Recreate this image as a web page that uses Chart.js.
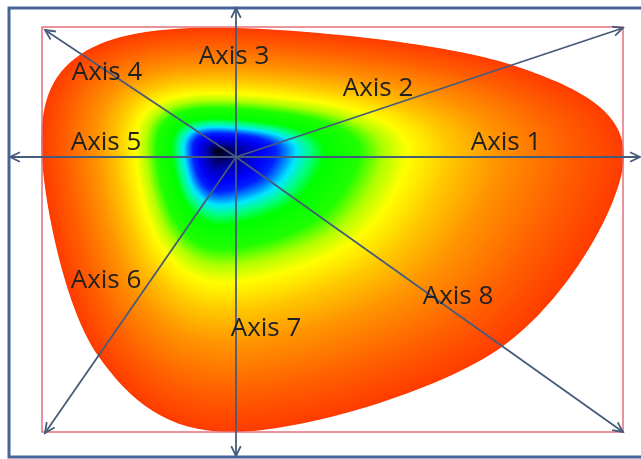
<!DOCTYPE html>
<html>
<head>
<meta charset="utf-8">
<script src="https://cdn.jsdelivr.net/npm/chart.js@4/dist/chart.umd.min.js"></script>
<style>
  html, body { margin: 0; padding: 0; background: #fff; }
  #wrap { width: 641px; height: 459px; }
</style>
</head>
<body>
<div id="wrap"><canvas id="chart" width="641" height="459"></canvas></div>
<script>
// data (units = px, origin where the axes cross, y up)
const axisNames = ['Axis 1', 'Axis 2', 'Axis 3', 'Axis 4', 'Axis 5', 'Axis 6', 'Axis 7', 'Axis 8']
const axisEndX = [404, 387, 0, -191, -226, -191, 0, 387]
const axisEndY = [0, 129, 149, 127, 0, -276, -299, -275]
const axisValues = [388, 291, 129, 186, 194, 242, 275, 327]

// layout
const labelX = [270, 142, -2, -129, -130, -130, 30, 222]
const labelY = [14, 68, 100, 84, 14, -124, -172, -140]
const fieldCenter = { x: -18, y: 6 }
const boxRect = { left: -194, right: 387, top: 130, bottom: -275 }
const frameRect = { left: -227, top: 149, bottom: -300 }

// colour ramp from the centre (0) to the edge (1)
const rampStops = [0, 0.025, 0.065, 0.11, 0.145, 0.17, 0.195, 0.23, 0.265, 0.35, 0.41, 0.47, 0.57, 0.69, 0.86, 1]
const rampColors = ['#000000', '#00004a', '#0000b0', '#0000f5', '#0020ff', '#0080ff', '#00e8ff', '#00ff80',
    '#00ff00', '#20ff00', '#b0ff00', '#ffff00', '#ffc800', '#ff9400', '#ff6000', '#ff3c00']

const axisColor = '#475b7a'

// helpers
const hexToRgb = (h) => [parseInt(h.slice(1, 3), 16), parseInt(h.slice(3, 5), 16), parseInt(h.slice(5, 7), 16)]
const rampRgb = rampColors.map(hexToRgb)

const colorAt = (k) => {
    let i = 0
    while (i < rampStops.length - 2 && k > rampStops[i + 1]) i++
    const t = Math.min(1, Math.max(0, (k - rampStops[i]) / (rampStops[i + 1] - rampStops[i])))
    const a = rampRgb[i], b = rampRgb[i + 1]
    return 'rgb(' + [0, 1, 2].map(j => Math.round(a[j] + (b[j] - a[j]) * t)).join(',') + ')'
}

const closedSpline = (ctx, pts) => {
    const n = pts.length
    ctx.beginPath()
    ctx.moveTo(pts[0].x, pts[0].y)
    for (let i = 0; i < n; i++) {
        const p0 = pts[(i - 1 + n) % n], p1 = pts[i], p2 = pts[(i + 1) % n], p3 = pts[(i + 2) % n]
        ctx.bezierCurveTo(
            p1.x + (p2.x - p0.x) / 6, p1.y + (p2.y - p0.y) / 6,
            p2.x - (p3.x - p1.x) / 6, p2.y - (p3.y - p1.y) / 6,
            p2.x, p2.y)
    }
    ctx.closePath()
}

const shapePoints = axisValues.map((v, i) => {
    const len = Math.hypot(axisEndX[i], axisEndY[i])
    return { x: axisEndX[i] / len * v, y: axisEndY[i] / len * v }
})

const axisDatasets = axisNames.map((name, i) => ({
    label: name,
    data: [{ x: 0, y: 0 }, { x: axisEndX[i], y: axisEndY[i] }],
    showLine: true,
    borderColor: axisColor,
    borderWidth: 1.8,
    pointRadius: 0
}))

const SHAPE = axisDatasets.length

const shapePlugin = {
    id: 'shape',
    beforeDatasetsDraw(chart) {
        const ctx = chart.ctx
        const x = chart.scales.x, y = chart.scales.y
        // outer frame
        ctx.save()
        ctx.strokeStyle = '#46649a'
        ctx.lineWidth = 3
        ctx.beginPath()
        ctx.moveTo(chart.width + 5, y.getPixelForValue(frameRect.top))
        ctx.lineTo(x.getPixelForValue(frameRect.left), y.getPixelForValue(frameRect.top))
        ctx.lineTo(x.getPixelForValue(frameRect.left), y.getPixelForValue(frameRect.bottom))
        ctx.lineTo(chart.width + 5, y.getPixelForValue(frameRect.bottom))
        ctx.stroke()

        // filled shape, drawn as nested contours from the edge inwards
        const pts = chart.getDatasetMeta(SHAPE).data.map(p => ({ x: p.x, y: p.y }))
        const cx = x.getPixelForValue(fieldCenter.x), cy = y.getPixelForValue(fieldCenter.y)
        const steps = 280
        for (let s = steps; s >= 1; s--) {
            const k = s / steps
            const level = pts.map(p => ({ x: cx + (p.x - cx) * k, y: cy + (p.y - cy) * k }))
            closedSpline(ctx, level)
            ctx.fillStyle = colorAt(k)
            ctx.fill()
        }

        // thin red box
        ctx.strokeStyle = '#e4707c'
        ctx.lineWidth = 1.5
        const l = x.getPixelForValue(boxRect.left), r = x.getPixelForValue(boxRect.right)
        const t = y.getPixelForValue(boxRect.top), b = y.getPixelForValue(boxRect.bottom)
        ctx.strokeRect(l, t, r - l, b - t)
        ctx.restore()
    },
    afterDatasetsDraw(chart) {
        const ctx = chart.ctx
        const x = chart.scales.x, y = chart.scales.y
        ctx.save()
        // arrow heads
        ctx.strokeStyle = axisColor
        ctx.lineWidth = 1.8
        axisNames.forEach((name, i) => {
            const d = chart.getDatasetMeta(i).data
            const tipX = d[1].x, tipY = d[1].y
            const ang = Math.atan2(tipY - d[0].y, tipX - d[0].x)
            ctx.beginPath()
            ctx.moveTo(tipX - 11 * Math.cos(ang - 0.45), tipY - 11 * Math.sin(ang - 0.45))
            ctx.lineTo(tipX, tipY)
            ctx.lineTo(tipX - 11 * Math.cos(ang + 0.45), tipY - 11 * Math.sin(ang + 0.45))
            ctx.stroke()
        })
        // axis names
        ctx.fillStyle = '#222'
        ctx.font = '26px "Open Sans"'
        ctx.textAlign = 'center'
        ctx.textBaseline = 'middle'
        axisNames.forEach((name, i) => {
            ctx.fillText(name, x.getPixelForValue(labelX[i]), y.getPixelForValue(labelY[i]))
        })
        ctx.restore()
    }
}

const config = {
    type: 'scatter',
    data: {
        datasets: [...axisDatasets, {
            label: 'shape',
            data: shapePoints,
            pointRadius: 0,
            showLine: false
        }]
    },
    options: {
        responsive: false,
        animation: false,
        layout: { padding: 0 },
        plugins: { legend: { display: false }, tooltip: { enabled: false } },
        scales: {
            x: { type: 'linear', display: false, min: -236, max: 405 },
            y: { type: 'linear', display: false, min: -302, max: 157 }
        }
    },
    plugins: [shapePlugin]
}

const chart = new Chart(document.getElementById('chart'), config)
</script>
</body>
</html>
